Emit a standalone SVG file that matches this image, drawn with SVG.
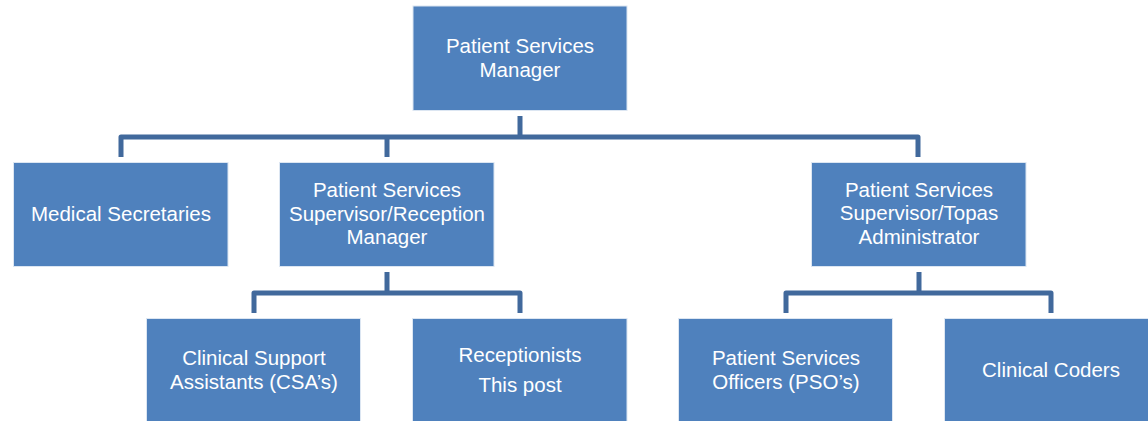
<svg xmlns="http://www.w3.org/2000/svg" width="1148" height="421" viewBox="0 0 1148 421">
  <style>
    .box { fill: #4F81BD; stroke: #DCE6F2; stroke-width: 1; }
    .lbl { fill: #FFFFFF; font-family: "Liberation Sans", Arial, sans-serif; font-size: 20.5px; text-anchor: middle; }
    .link { fill: none; stroke: #41699C; stroke-width: 5; stroke-linejoin: round; stroke-linecap: butt; }
  </style>
  <rect width="1148" height="421" fill="#FFFFFF"/>

  <!-- connectors -->
  <g id="connectors">
    <path class="link" d="M520,116 V137"/>
    <path class="link" d="M121,157 V137 H918 V157"/>
    <path class="link" d="M387,137 V157"/>
    <path class="link" d="M387,272 V293"/>
    <path class="link" d="M254,313 V293 H520 V313"/>
    <path class="link" d="M919,272 V293"/>
    <path class="link" d="M786,313 V293 H1051 V313"/>
  </g>

  <g id="manager">
    <rect class="box" x="413" y="6" width="214" height="104.5"/>
    <text class="lbl" x="520" y="53">Patient Services</text>
    <text class="lbl" x="520" y="77">Manager</text>
  </g>

  <g id="medical-secretaries">
    <rect class="box" x="13.5" y="162.5" width="214.5" height="104"/>
    <text class="lbl" x="121" y="221">Medical Secretaries</text>
  </g>

  <g id="reception-supervisor">
    <rect class="box" x="279.5" y="162.5" width="214.5" height="104"/>
    <text class="lbl" x="387" y="197">Patient Services</text>
    <text class="lbl" x="387" y="221">Supervisor/Reception</text>
    <text class="lbl" x="387" y="244">Manager</text>
  </g>

  <g id="topas-supervisor">
    <rect class="box" x="811.5" y="162.5" width="214.5" height="104"/>
    <text class="lbl" x="919" y="197">Patient Services</text>
    <text class="lbl" x="919" y="220">Supervisor/Topas</text>
    <text class="lbl" x="919" y="243.5">Administrator</text>
  </g>

  <g id="csa">
    <rect class="box" x="146.5" y="318.5" width="214" height="110"/>
    <text class="lbl" x="254" y="365">Clinical Support</text>
    <text class="lbl" x="254" y="389">Assistants (CSA’s)</text>
  </g>

  <g id="receptionists">
    <rect class="box" x="412.5" y="318.5" width="214.5" height="110"/>
    <text class="lbl" x="520" y="361.5">Receptionists</text>
    <text class="lbl" x="520" y="392">This post</text>
  </g>

  <g id="pso">
    <rect class="box" x="678.5" y="318.5" width="214" height="110"/>
    <text class="lbl" x="786" y="365">Patient Services</text>
    <text class="lbl" x="786" y="389">Officers (PSO’s)</text>
  </g>

  <g id="clinical-coders">
    <rect class="box" x="944.5" y="318.5" width="214.5" height="110"/>
    <text class="lbl" x="1051" y="377">Clinical Coders</text>
  </g>
</svg>
